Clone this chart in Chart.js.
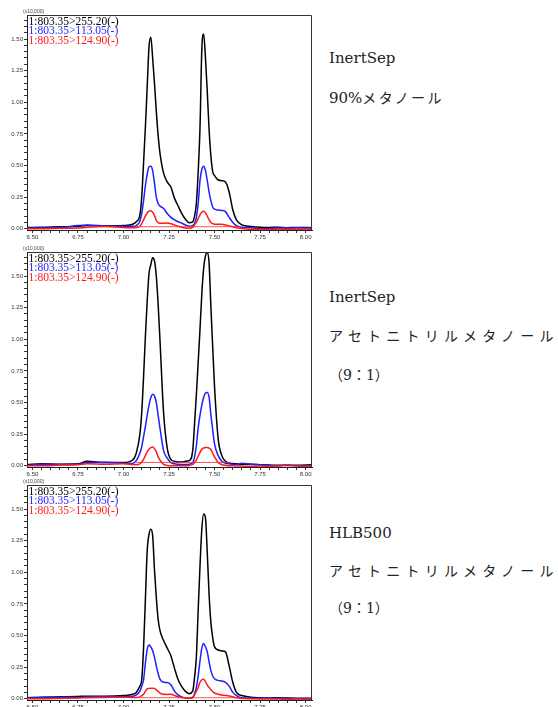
<!DOCTYPE html>
<html lang="ja">
<head>
<meta charset="utf-8">
<title>MRM chromatograms</title>
<script src="https://cdn.jsdelivr.net/npm/chart.js@4.4.1/dist/chart.umd.min.js"></script>
<style>
  html, body { margin: 0; padding: 0; background: #fff; overflow: hidden; }
  body { width: 558px; height: 707px; position: relative; }
  canvas { position: absolute; left: 0; }
  .note {
    position: absolute; left: 329px; white-space: nowrap; color: #222;
    font-family: "DejaVu Serif", "Noto Sans CJK JP", serif; font-size: 15px; line-height: 18px;
  }
  .kana { font-size: 14px; letter-spacing: 5.2px; }
</style>
</head>
<body>
<canvas id="chart1" width="320" height="245" style="top:0px"></canvas>
<canvas id="chart2" width="320" height="245" style="top:237px"></canvas>
<canvas id="chart3" width="320" height="245" style="top:470px"></canvas>

<div class="note" style="top:49px">InertSep</div>
<div class="note" style="top:89px">90%<span style="font-size:14px;letter-spacing:2.4px">メタノール</span></div>

<div class="note" style="top:288px">InertSep</div>
<div class="note kana" style="top:327px">アセトニトリルメタノール</div>
<div class="note" style="top:366px;font-size:14px">（9：1）</div>

<div class="note" style="top:524px">HLB500</div>
<div class="note kana" style="top:562px">アセトニトリルメタノール</div>
<div class="note" style="top:599px;font-size:14px">（9：1）</div>

<script>
// retention time (min), shared by all traces
const retentionTimes = [6.47, 6.55, 6.65, 6.75, 6.80, 6.90, 7.00, 7.05, 7.07, 7.09,
  7.10, 7.11, 7.12, 7.13, 7.14, 7.15, 7.16, 7.17, 7.18, 7.19, 7.20,
  7.22, 7.24, 7.26, 7.28, 7.30, 7.32, 7.34, 7.36, 7.38, 7.39,
  7.40, 7.41, 7.42, 7.43, 7.44, 7.45, 7.46, 7.47, 7.48, 7.49, 7.50,
  7.52, 7.54, 7.56, 7.58, 7.60, 7.62, 7.65, 7.70, 7.75, 7.80, 7.85, 7.90, 7.95, 8.035];

const transitionLabels = ["1:803.35>255.20(-)", "1:803.35>113.05(-)", "1:803.35>124.90(-)"];
const seriesColors = ["#000000", "#1f1fff", "#ff1a1a"];

// intensity x10,000 : InertSep / 90% methanol
const inertMeoh255 = [0.010, 0.012, 0.015, 0.020, 0.025, 0.022, 0.025, 0.035, 0.055, 0.110,
  0.25, 0.52, 0.80, 1.12, 1.44, 1.515, 1.35, 1.15, 0.93, 0.74, 0.60,
  0.44, 0.37, 0.33, 0.24, 0.18, 0.12, 0.075, 0.048, 0.055, 0.10,
  0.20, 0.45, 0.80, 1.42, 1.54, 1.35, 1.08, 0.78, 0.57, 0.45, 0.42,
  0.385, 0.38, 0.37, 0.29, 0.15, 0.07, 0.03, 0.018, 0.012, 0.010, 0.012, 0.008, 0.010, 0.008];
const inertMeoh113 = [0.005, 0.008, 0.010, 0.025, 0.030, 0.022, 0.020, 0.020, 0.025, 0.060,
  0.12, 0.22, 0.34, 0.43, 0.49, 0.495, 0.46, 0.36, 0.25, 0.20, 0.18,
  0.16, 0.12, 0.09, 0.07, 0.055, 0.043, 0.03, 0.02, 0.025, 0.04,
  0.09, 0.20, 0.38, 0.47, 0.495, 0.46, 0.38, 0.29, 0.22, 0.17, 0.155,
  0.148, 0.145, 0.135, 0.09, 0.05, 0.025, 0.012, 0.008, 0.0, 0.002, 0.005, 0.005, 0.008, 0.005];
const inertMeoh125 = [0.0, 0.0, 0.003, 0.005, 0.012, 0.018, 0.010, 0.008, 0.010, 0.020,
  0.04, 0.07, 0.10, 0.125, 0.14, 0.143, 0.13, 0.105, 0.065, 0.048, 0.043,
  0.043, 0.045, 0.04, 0.03, 0.02, 0.012, 0.006, 0.004, 0.01, 0.03,
  0.05, 0.08, 0.11, 0.13, 0.138, 0.125, 0.10, 0.07, 0.05, 0.04, 0.036,
  0.036, 0.036, 0.03, 0.022, 0.016, 0.008, 0.002, -0.005, -0.005, -0.006, -0.004, -0.006, -0.004, -0.005];

// InertSep / acetonitrile:methanol (9:1)
const inertAcn255 = [0.008, 0.015, 0.012, 0.015, 0.035, 0.025, 0.025, 0.045, 0.10, 0.25,
  0.42, 0.70, 1.02, 1.30, 1.52, 1.59, 1.645, 1.62, 1.50, 1.28, 1.00,
  0.42, 0.14, 0.05, 0.035, 0.03, 0.03, 0.035, 0.04, 0.12, 0.33,
  0.56, 0.82, 1.08, 1.36, 1.56, 1.66, 1.685, 1.60, 1.25, 0.93, 0.62,
  0.21, 0.08, 0.035, 0.02, 0.018, 0.015, 0.012, 0.012, 0.008, 0.005, 0.003, 0.004, 0.003, 0.008];
const inertAcn113 = [0.003, 0.012, 0.010, 0.012, 0.025, 0.028, 0.020, 0.018, 0.040, 0.10,
  0.15, 0.23, 0.31, 0.40, 0.48, 0.54, 0.565, 0.55, 0.50, 0.40, 0.30,
  0.12, 0.06, 0.025, 0.015, 0.012, 0.010, 0.010, 0.012, 0.025, 0.07,
  0.16, 0.30, 0.40, 0.48, 0.54, 0.575, 0.58, 0.54, 0.40, 0.28, 0.17,
  0.08, 0.035, 0.02, 0.015, 0.012, 0.010, 0.02, 0.012, 0.008, 0.003, 0.0, 0.002, 0.0, -0.003];
const inertAcn125 = [0.0, 0.0, 0.005, 0.008, 0.015, 0.012, 0.015, 0.010, 0.008, 0.015,
  0.03, 0.05, 0.08, 0.11, 0.13, 0.143, 0.148, 0.135, 0.11, 0.07, 0.045,
  0.01, 0.002, 0.0, 0.0, 0.0, 0.0, 0.0, 0.002, 0.01, 0.025,
  0.045, 0.075, 0.105, 0.13, 0.14, 0.145, 0.145, 0.14, 0.128, 0.10, 0.07,
  0.026, 0.008, 0.003, 0.0, 0.0, -0.002, -0.003, -0.004, -0.003, -0.004, -0.003, 0.008, -0.002, -0.004];

// HLB500 / acetonitrile:methanol (9:1)
const hlbAcn255 = [0.008, 0.012, 0.015, 0.018, 0.020, 0.020, 0.025, 0.035, 0.050, 0.10,
  0.15, 0.40, 0.78, 1.17, 1.30, 1.34, 1.29, 1.02, 0.80, 0.63, 0.54,
  0.46, 0.40, 0.34, 0.24, 0.15, 0.095, 0.058, 0.04, 0.06, 0.17,
  0.33, 0.70, 1.05, 1.34, 1.46, 1.43, 1.15, 0.82, 0.60, 0.48, 0.41,
  0.385, 0.378, 0.37, 0.26, 0.13, 0.05, 0.025, 0.012, 0.008, 0.006, 0.008, 0.005, 0.004, 0.004];
const hlbAcn113 = [0.005, 0.010, 0.012, 0.010, 0.015, 0.015, 0.018, 0.020, 0.030, 0.060,
  0.10, 0.15, 0.28, 0.39, 0.425, 0.41, 0.38, 0.33, 0.26, 0.20, 0.155,
  0.13, 0.128, 0.11, 0.06, 0.03, 0.015, 0.008, 0.008, 0.013, 0.04,
  0.09, 0.18, 0.30, 0.40, 0.436, 0.41, 0.37, 0.29, 0.22, 0.18, 0.158,
  0.145, 0.14, 0.13, 0.10, 0.05, 0.025, 0.008, 0.005, 0.004, 0.006, 0.003, 0.002, 0.0, 0.0];
const hlbAcn125 = [0.0, 0.0, 0.003, 0.006, 0.008, 0.010, 0.012, 0.010, 0.010, 0.015,
  0.025, 0.035, 0.06, 0.078, 0.082, 0.083, 0.083, 0.082, 0.07, 0.058, 0.045,
  0.035, 0.034, 0.035, 0.026, 0.016, 0.010, 0.006, 0.003, 0.008, 0.03,
  0.06, 0.09, 0.13, 0.15, 0.154, 0.135, 0.108, 0.09, 0.072, 0.055, 0.045,
  0.036, 0.03, 0.026, 0.022, 0.015, 0.008, 0.003, 0.0, -0.002, -0.003, -0.003, -0.004, -0.003, -0.004];

// integration baseline drawn under the 124.90 trace
const baselineStart = [7.06, 7.07, 7.08];
const baselineEnd = [7.64, 7.59, 7.64];
const baselineLevel = [0.016, 0.026, 0.008];

const xMajorTicks = [6.50, 6.75, 7.00, 7.25, 7.50, 7.75, 8.00];
const yMajorTicks = [0.00, 0.25, 0.50, 0.75, 1.00, 1.25, 1.50];

function minorTicks(from, to, step) {
  const out = [];
  for (let v = from; v <= to + 1e-9; v += step) out.push(+v.toFixed(2));
  return out;
}

function isMajor(v, list) {
  return list.some(m => Math.abs(m - v) < 1e-6);
}

const framePlugin = {
  id: "frame",
  afterDatasetsDraw(chart) {
    const { ctx, chartArea: a } = chart;
    ctx.save();
    ctx.strokeStyle = "#333";
    ctx.lineWidth = 1;
    ctx.beginPath();
    ctx.moveTo(a.left, a.top + 0.5);
    ctx.lineTo(a.right - 0.5, a.top + 0.5);
    ctx.lineTo(a.right - 0.5, a.bottom);
    ctx.stroke();

    ctx.fillStyle = "#444";
    ctx.font = '5px "Liberation Sans"';
    ctx.textBaseline = "bottom";
    ctx.fillText("(x10,000)", a.left - 4, a.top - 0.5);

    ctx.font = '11.5px "Liberation Serif"';
    ctx.textBaseline = "middle";
    transitionLabels.forEach((t, i) => {
      ctx.fillStyle = seriesColors[i];
      ctx.fillText(t, a.left + 1.5, a.top + 6.5 + i * 9.5);
    });
    ctx.restore();
  }
};

function makeChart(id, traces, idx) {
  const datasets = traces.map((vals, i) => ({
    label: transitionLabels[i],
    data: vals.map((y, k) => ({ x: retentionTimes[k], y })),
    borderColor: seriesColors[i],
    borderWidth: 1.5,
    pointRadius: 0,
    cubicInterpolationMode: "monotone",
    order: 3 - i
  }));
  datasets.push({
    label: "baseline",
    data: [{ x: baselineStart[idx], y: baselineLevel[idx] }, { x: baselineEnd[idx], y: baselineLevel[idx] }],
    borderColor: "rgba(255,40,40,0.8)",
    borderWidth: 1,
    pointRadius: 0,
    order: 0
  });

  const tickFont = { size: 6, family: "Liberation Sans" };

  new Chart(document.getElementById(id), {
    type: "line",
    data: { datasets },
    plugins: [framePlugin],
    options: {
      responsive: false,
      animation: false,
      layout: { padding: { top: 15, right: 8, left: 0, bottom: 0 } },
      plugins: { legend: { display: false }, tooltip: { enabled: false } },
      scales: {
        x: {
          type: "linear",
          min: 6.47,
          max: 8.035,
          border: { color: "#222", width: 1 },
          grid: { drawOnChartArea: false, tickLength: 3, color: "#333" },
          ticks: {
            font: tickFont, color: "#333", padding: 1, maxRotation: 0, autoSkip: false,
            callback: v => isMajor(v, xMajorTicks) ? v.toFixed(2) : ""
          },
          afterBuildTicks: s => { s.ticks = minorTicks(6.50, 8.00, 0.05).map(value => ({ value })); },
          afterFit: s => { s.height = 15; }
        },
        y: {
          min: -0.01,
          max: 1.69,
          border: { color: "#222", width: 1 },
          grid: { drawOnChartArea: false, tickLength: 3, color: "#333" },
          ticks: {
            font: tickFont, color: "#333", padding: 1, autoSkip: false,
            callback: v => isMajor(v, yMajorTicks) ? v.toFixed(2) : ""
          },
          afterBuildTicks: s => { s.ticks = minorTicks(0, 1.65, 0.05).map(value => ({ value })); },
          afterFit: s => { s.width = 27; }
        }
      }
    }
  });
}

makeChart("chart1", [inertMeoh255, inertMeoh113, inertMeoh125], 0);
makeChart("chart2", [inertAcn255, inertAcn113, inertAcn125], 1);
makeChart("chart3", [hlbAcn255, hlbAcn113, hlbAcn125], 2);
</script>
</body>
</html>
